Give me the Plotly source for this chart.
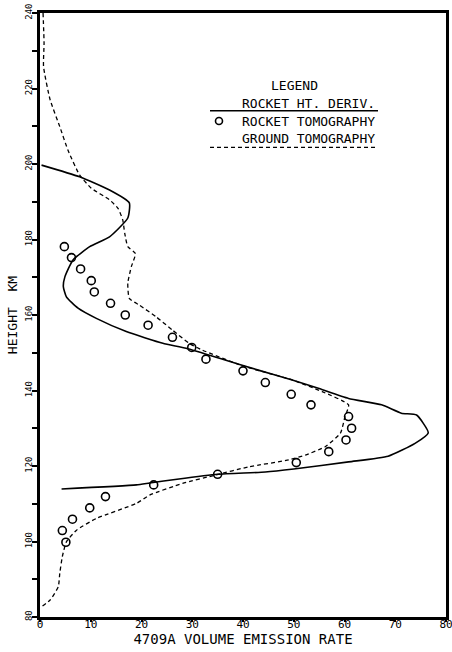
import plotly.graph_objects as go

# Rocket height derivative (solid line)
deriv_x = [0.3, 7.8, 13.7, 17.6, 17.3, 13.7, 9.8, 6.5, 4.9, 4.6, 5.2, 7.5, 11.1, 17.0, 24.2, 28.8,
           36.0, 43.0, 49.7, 55.0, 60.8, 67.3, 71.2, 74.2, 76.5, 73.9, 68.6, 60.8, 50.0, 44.4, 35.0,
           27.0, 21.6, 19.0, 4.25]
deriv_y = [199.7, 196.6, 193.1, 189.7, 185.7, 180.7, 178.1, 174.6, 170.1, 167.5, 164.8, 161.8, 159.1,
           155.6, 152.5, 151.2, 148.3, 145.4, 142.8, 140.5, 137.9, 136.2, 134.0, 133.5, 128.8, 126.0,
           122.6, 121.1, 119.2, 118.4, 117.8, 116.5, 115.5, 115.0, 113.9]

# Rocket tomography (open circles)
rtomo_x = [4.8, 6.2, 8.0, 10.1, 10.7, 13.9, 16.8, 21.3, 26.1, 29.9, 32.7, 40.0, 44.4, 49.5, 53.4,
           60.8, 61.4, 60.3, 56.9, 50.5, 35.0, 22.4, 12.9, 9.8, 6.4, 4.4, 5.1]
rtomo_y = [178.1, 175.2, 172.2, 169.1, 166.1, 163.1, 160.0, 157.3, 154.1, 151.4, 148.3, 145.2, 142.1,
           139.0, 136.2, 133.1, 130.0, 126.9, 123.8, 120.9, 117.8, 115.0, 111.9, 108.9, 105.9, 102.9, 99.8]

# Ground tomography (dashed line)
gtomo_x = [0.6, 0.8, 0.7, 2.0, 3.9, 5.5, 7.8, 10.1, 13.7, 15.4, 16.3, 16.7, 17.3, 18.8, 18.0, 17.3,
           17.6, 19.6, 22.9, 26.1, 29.4, 32.0, 40.0, 49.7, 55.6, 60.8, 60.1, 59.2, 56.2, 52.3, 49.0,
           41.2, 34.6, 28.1, 21.6, 19.0, 11.1, 7.2, 5.2, 4.4, 3.9, 3.6, 2.0, 0.3]
gtomo_y = [240.0, 232.0, 225.8, 217.0, 209.9, 203.7, 197.1, 193.6, 190.5, 188.2, 185.2, 181.6, 178.1,
           176.3, 172.8, 168.4, 164.4, 162.6, 159.5, 156.0, 152.5, 150.7, 146.5, 142.8, 139.7, 136.2,
           133.1, 128.7, 125.1, 122.9, 121.6, 119.8, 117.6, 115.4, 112.3, 110.1, 106.1, 103.0, 99.9,
           96.0, 91.6, 88.0, 84.5, 82.7]

x_ticks = [0, 10, 20, 30, 40, 50, 60, 70, 80]
y_ticks = [80, 90, 100, 110, 120, 130, 140, 150, 160, 170, 180, 190, 200, 210, 220, 230, 240]
y_labels = [str(v) if v % 20 == 0 else "" for v in y_ticks]

legend_labels = ["ROCKET HT. DERIV.", "ROCKET TOMOGRAPHY", "GROUND TOMOGRAPHY"]

FONT = "DejaVu Sans Mono"

fig = go.Figure()
fig.add_trace(go.Scatter(x=deriv_x, y=deriv_y, mode="lines",
                         line=dict(color="black", width=1.6, shape="spline", smoothing=0.5),
                         showlegend=False))
fig.add_trace(go.Scatter(x=gtomo_x, y=gtomo_y, mode="lines",
                         line=dict(color="black", width=1.3, dash="4px,3px", shape="spline", smoothing=0.5),
                         showlegend=False))
fig.add_trace(go.Scatter(x=rtomo_x, y=rtomo_y, mode="markers",
                         marker=dict(symbol="circle-open", size=8, color="black",
                                     line=dict(width=1.6, color="black")),
                         showlegend=False))

L, R, T, B = 40, 6, 13, 35
W, H = 452, 652
pw, ph = W - L - R, H - T - B


def px(x):
    return (x - L) / pw


def py(y):
    return (H - B - y) / ph


shapes = [
    dict(type="line", xref="paper", yref="paper", x0=px(210), x1=px(378), y0=py(110.7), y1=py(110.7),
         line=dict(color="black", width=1.6)),
    dict(type="line", xref="paper", yref="paper", x0=px(210), x1=px(378), y0=py(147.3), y1=py(147.3),
         line=dict(color="black", width=1.3, dash="4px,3px")),
    dict(type="circle", xref="paper", yref="paper", x0=px(215.5), x1=px(222.5), y0=py(124.5), y1=py(117.5),
         line=dict(color="black", width=1.6)),
]


def label(text, x, y):
    return dict(text=text, x=px(x), y=py(y), xref="paper", yref="paper", showarrow=False,
                xanchor="center", yanchor="middle",
                font=dict(family=FONT, size=13, color="black"))


annotations = [
    label("LEGEND", 294, 85),
    label(legend_labels[0], 308, 103.3),
    label(legend_labels[1], 308, 121),
    label(legend_labels[2], 308, 139),
]

fig.update_layout(
    width=W, height=H,
    margin=dict(l=L, r=R, t=T, b=B),
    paper_bgcolor="white", plot_bgcolor="white",
    shapes=shapes, annotations=annotations,
    font=dict(family=FONT, color="black"),
)

fig.update_xaxes(range=[0, 80], tickvals=x_ticks, ticktext=[str(v) for v in x_ticks],
                 showgrid=False, zeroline=False, showline=True, linecolor="black", linewidth=2.5,
                 mirror=True, ticks="outside", ticklen=2, tickwidth=1.5, tickcolor="black",
                 automargin=False, ticklabeloverflow="allow", ticklabelstandoff=-7,
                 tickfont=dict(family=FONT, size=11, color="black"),
                 title=dict(text="4709A VOLUME EMISSION RATE", standoff=0,
                            font=dict(family=FONT, size=14, color="black")))

fig.update_yaxes(range=[80, 240], tickvals=y_ticks, ticktext=y_labels, tickangle=-90,
                 showgrid=False, zeroline=False, showline=True, linecolor="black", linewidth=2.5,
                 mirror=True, ticks="outside", ticklen=5, tickwidth=1.5, tickcolor="black",
                 ticklabelstandoff=-3, automargin=False, ticklabeloverflow="allow",
                 tickfont=dict(family=FONT, size=9, color="black"),
                 title=dict(text="HEIGHT  KM", standoff=4,
                            font=dict(family=FONT, size=13, color="black")))

fig.write_html("out.html")
